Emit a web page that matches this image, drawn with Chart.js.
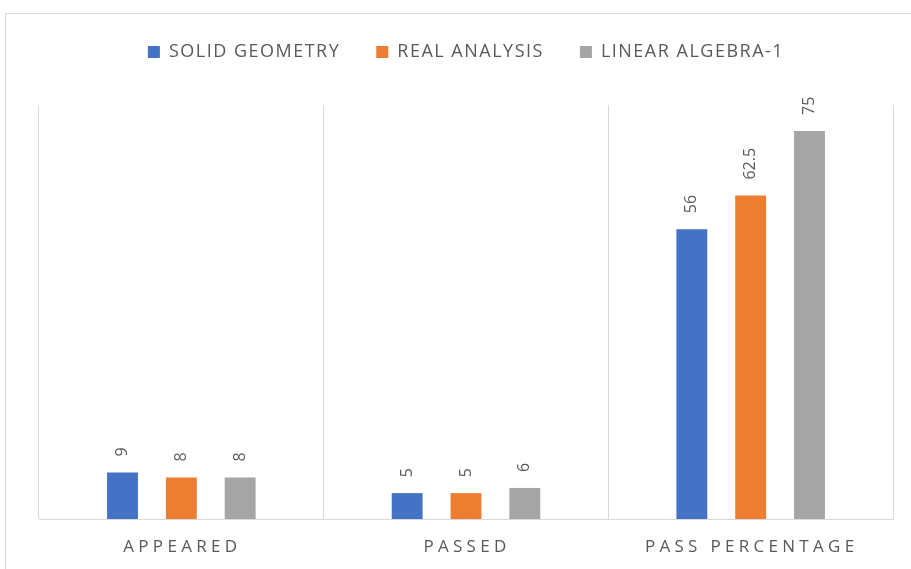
<!DOCTYPE html>
<html>
<head>
<meta charset="utf-8">
<script src="https://cdn.jsdelivr.net/npm/chart.js@4.4.0/dist/chart.umd.min.js"></script>
<style>
  html, body { margin: 0; padding: 0; background: #fff; }
  #wrap { position: relative; width: 911px; height: 569px; }
</style>
</head>
<body>
<div id="wrap"><canvas id="myChart" width="911" height="569"></canvas></div>
<script>
const categories = ['APPEARED', 'PASSED', 'PASS PERCENTAGE'];
const solidGeometry = [9, 5, 56];
const realAnalysis = [8, 5, 62.5];
const linearAlgebra = [8, 6, 75];
const seriesNames = ['SOLID GEOMETRY', 'REAL ANALYSIS', 'LINEAR ALGEBRA-1'];

const COLORS = { blue: '#4472C4', orange: '#ED7D31', gray: '#A5A5A5' };
const TEXT = '#595959';
const LINE = '#d9d9d9';

// outer frame of the chart box
const frame = {
    id: 'frame',
    beforeDraw(chart) {
        const ctx = chart.ctx;
        ctx.save();
        ctx.strokeStyle = LINE;
        ctx.lineWidth = 1;
        ctx.strokeRect(5.5, 13.5, 1000, 1000);
        ctx.restore();
    }
};

// fixed legend band height, and a bit of letter spacing on its text
const legendTweak = {
    id: 'legendTweak',
    beforeInit(chart) {
        const lg = chart.legend;
        const fit = lg.fit;
        const draw = lg.draw;
        lg.fit = function () {
            chart.ctx.letterSpacing = '1.5px';
            fit.bind(lg)();
            chart.ctx.letterSpacing = '0px';
            this.height = 98;
        };
        lg.draw = function () {
            chart.ctx.letterSpacing = '1.5px';
            draw.bind(lg)();
            chart.ctx.letterSpacing = '0px';
        };
    }
};

// rotated value labels above each bar
const valueLabels = {
    id: 'valueLabels',
    afterDatasetsDraw(chart) {
        const ctx = chart.ctx;
        ctx.save();
        ctx.fillStyle = TEXT;
        ctx.font = '16px "Open Sans", sans-serif';
        ctx.textAlign = 'left';
        ctx.textBaseline = 'middle';
        chart.data.datasets.forEach((ds, i) => {
            chart.getDatasetMeta(i).data.forEach((bar, j) => {
                ctx.save();
                ctx.translate(bar.x, bar.y - 16);
                ctx.rotate(-Math.PI / 2);
                ctx.fillText(String(ds.data[j]), 0, 0);
                ctx.restore();
            });
        });
        ctx.restore();
    }
};

// spaced-out category labels under the axis
const catLabels = {
    id: 'catLabels',
    afterDraw(chart) {
        const ctx = chart.ctx;
        const x = chart.scales.x;
        ctx.save();
        ctx.fillStyle = TEXT;
        ctx.font = '17px "Open Sans", sans-serif';
        ctx.letterSpacing = '4.3px';
        ctx.textAlign = 'center';
        ctx.textBaseline = 'middle';
        categories.forEach((c, i) => {
            ctx.fillText(c, x.getPixelForValue(i) + 1, 547);
        });
        ctx.restore();
    }
};

const data = {
    labels: categories,
    datasets: [
        { label: seriesNames[0], data: solidGeometry, backgroundColor: COLORS.blue },
        { label: seriesNames[1], data: realAnalysis, backgroundColor: COLORS.orange },
        { label: seriesNames[2], data: linearAlgebra, backgroundColor: COLORS.gray }
    ]
};

new Chart(document.getElementById('myChart'), {
    type: 'bar',
    data: data,
    options: {
        responsive: false,
        animation: false,
        devicePixelRatio: 1,
        categoryPercentage: 0.62,
        barPercentage: 0.525,
        layout: { padding: { top: 7, left: 39, right: 18, bottom: 22 } },
        plugins: {
            legend: {
                position: 'top',
                labels: {
                    boxWidth: 12,
                    boxHeight: 12,
                    color: TEXT,
                    padding: 36,
                    font: { family: '"Open Sans", sans-serif', size: 18 }
                }
            },
            tooltip: { enabled: false }
        },
        scales: {
            x: {
                grid: { color: LINE, lineWidth: 1, drawTicks: false, offset: true },
                border: { color: LINE },
                ticks: { color: 'transparent', padding: 5, font: { size: 15 } }
            },
            y: {
                display: false,
                min: 0,
                max: 80
            }
        }
    },
    plugins: [frame, legendTweak, valueLabels, catLabels]
});
</script>
</body>
</html>
